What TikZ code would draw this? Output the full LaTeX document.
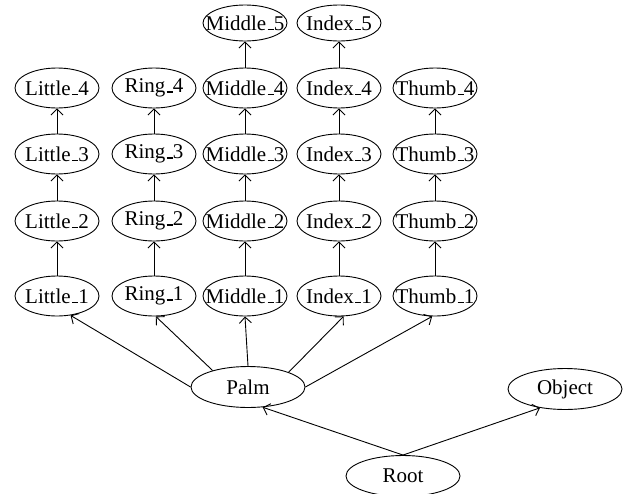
\documentclass[tikz,border=0pt]{standalone}
\usepackage{fontspec}
\setmainfont{Liberation Serif}
\usetikzlibrary{shapes.geometric,arrows.meta}
\newcommand\lowdash{\kern.06em\vbox{\hrule width.3em height 1.3pt}}

\begin{document}
\begin{tikzpicture}[x=1pt, y=-1pt, line width=0.9pt,
    every node/.style={ellipse, draw, inner sep=0pt, font=\fontsize{21}{25}\selectfont},
    joint/.style={minimum width=84pt, minimum height=40pt, inner xsep=-30pt},
    tip/.style={joint, minimum height=36pt},
    hub/.style={minimum width=114pt, minimum height=41pt, inner xsep=-10pt},
    link/.style={-{Straight Barb[length=6pt,width=12pt]}}]
    \useasboundingbox (0,0) rectangle (624,493);
    % Little finger
    \node[joint] (little1) at (57,296) {Little\lowdash 1};
    \node[joint] (little2) at (57,221) {Little\lowdash 2};
    \node[joint] (little3) at (57,154) {Little\lowdash 3};
    \node[joint] (little4) at (57,88)  {Little\lowdash 4};
    % Ring finger
    \node[joint] (ring1) at (154,296) {Ring\lowdash 1};
    \node[joint] (ring2) at (154,221) {Ring\lowdash 2};
    \node[joint] (ring3) at (154,154) {Ring\lowdash 3};
    \node[joint] (ring4) at (154,88)  {Ring\lowdash 4};
    % Middle finger
    \node[joint] (middle1) at (245,296) {Middle\lowdash 1};
    \node[joint] (middle2) at (245,221) {Middle\lowdash 2};
    \node[joint] (middle3) at (245,154) {Middle\lowdash 3};
    \node[joint] (middle4) at (245,88)  {Middle\lowdash 4};
    \node[tip]   (middle5) at (245,23)  {Middle\lowdash 5};
    % Index finger
    \node[joint] (index1) at (339,296) {Index\lowdash 1};
    \node[joint] (index2) at (339,221) {Index\lowdash 2};
    \node[joint] (index3) at (339,154) {Index\lowdash 3};
    \node[joint] (index4) at (339,88)  {Index\lowdash 4};
    \node[tip]   (index5) at (339,23)  {Index\lowdash 5};
    % Thumb
    \node[joint] (thumb1) at (435,296) {Thumb\lowdash 1};
    \node[joint] (thumb2) at (435,221) {Thumb\lowdash 2};
    \node[joint] (thumb3) at (435,154) {Thumb\lowdash 3};
    \node[joint] (thumb4) at (435,88)  {Thumb\lowdash 4};
    % Palm, root and object
    \node[hub] (palm)   at (248,387) {Palm};
    \node[hub] (object) at (565,389) {Object};
    \node[hub] (root)   at (403,476) {Root};
    % Edges along the fingers
    \draw[link] (little1) -- (little2);
    \draw[link] (little2) -- (little3);
    \draw[link] (little3) -- (little4);
    \draw[link] (ring1) -- (ring2);
    \draw[link] (ring2) -- (ring3);
    \draw[link] (ring3) -- (ring4);
    \draw[link] (middle1) -- (middle2);
    \draw[link] (middle2) -- (middle3);
    \draw[link] (middle3) -- (middle4);
    \draw[link] (middle4) -- (middle5);
    \draw[link] (index1) -- (index2);
    \draw[link] (index2) -- (index3);
    \draw[link] (index3) -- (index4);
    \draw[link] (index4) -- (index5);
    \draw[link] (thumb1) -- (thumb2);
    \draw[link] (thumb2) -- (thumb3);
    \draw[link] (thumb3) -- (thumb4);
    % Edges from the palm
    \draw[link] (palm.west)  -- (little1.305);
    \draw[link] (palm.155)   -- (ring1.275);
    \draw[link] (palm.north) -- (middle1.south);
    \draw[link] (palm.20)    -- (index1.283);
    \draw[link] (palm.east)  -- (thumb1.262);
    % Edges from the root
    \draw[link] (root.north) -- (palm.306);
    \draw[link] (root.north) -- (object.217);
\end{tikzpicture}
\end{document}
